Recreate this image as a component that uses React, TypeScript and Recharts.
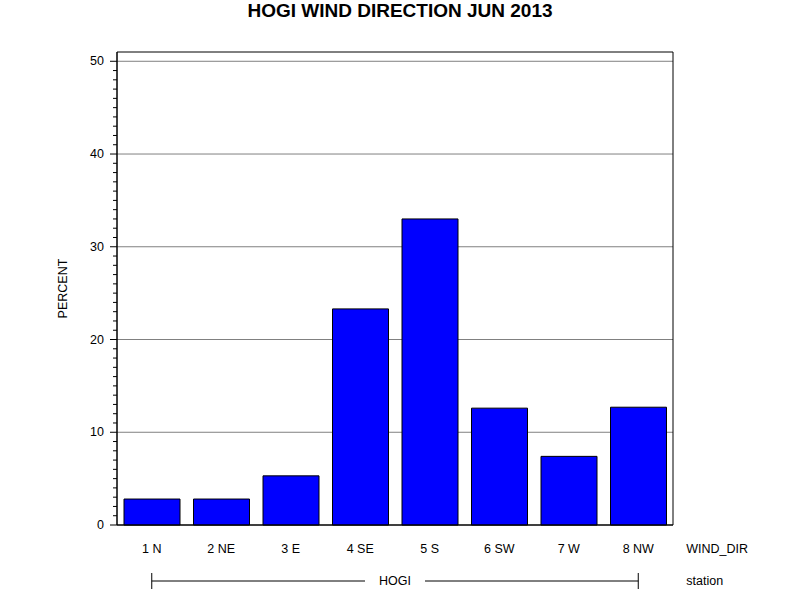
import React from "react";
import {
  BarChart,
  Bar,
  XAxis,
  YAxis,
  CartesianGrid,
  ReferenceArea,
} from "recharts";

const directions = ["1 N", "2 NE", "3 E", "4 SE", "5 S", "6 SW", "7 W", "8 NW"];
const percents = [2.8, 2.8, 5.3, 23.3, 33.0, 12.6, 7.4, 12.7];
const majorTicks = [0, 10, 20, 30, 40, 50];
const allTicks = [
  0, 1, 2, 3, 4, 5, 6, 7, 8, 9, 10, 11, 12, 13, 14, 15, 16, 17, 18, 19, 20, 21,
  22, 23, 24, 25, 26, 27, 28, 29, 30, 31, 32, 33, 34, 35, 36, 37, 38, 39, 40,
  41, 42, 43, 44, 45, 46, 47, 48, 49, 50,
];
const stationName = "HOGI";

const data = directions.map((d, i) => ({ dir: d, pct: percents[i] }));

const W = 800;
const H = 600;
const margin = { top: 52, right: 127, bottom: 0, left: 0 };
const plotW = W - 117 - margin.right;
const font = "'Liberation Sans', Arial, sans-serif";

const YTick = (props: any) => {
  const { x, y, payload } = props;
  const major = majorTicks.includes(payload.value);
  return (
    <g>
      <line x1={x - (major ? 7 : 4)} x2={x} y1={y} y2={y} stroke="#000" />
      {major && (
        <text x={x - 13} y={y + 4} textAnchor="end" fontSize={12.5} fontFamily={font} fill="#000">
          {payload.value}
        </text>
      )}
    </g>
  );
};

const XTick = (props: any) => {
  const { x, y, payload, index } = props;
  const n = directions.length;
  const step = plotW / n;
  const lastX = x + (n - 1) * step;
  const midX = (x + lastX) / 2;
  const ly = y + 56;
  return (
    <g fontFamily={font} fontSize={12.5} fill="#000">
      <text x={x} y={y + 28} textAnchor="middle">
        {payload.value}
      </text>
      {index === 0 && (
        <g>
          <line x1={x} x2={midX - 30} y1={ly} y2={ly} stroke="#000" />
          <line x1={midX + 30} x2={lastX} y1={ly} y2={ly} stroke="#000" />
          <line x1={x} x2={x} y1={ly - 8} y2={ly + 8} stroke="#000" />
          <line x1={lastX} x2={lastX} y1={ly - 8} y2={ly + 8} stroke="#000" />
          <text x={midX} y={ly + 4} textAnchor="middle">
            {stationName}
          </text>
        </g>
      )}
      {index === n - 1 && (
        <g>
          <text x={x + 48} y={y + 28}>WIND_DIR</text>
          <text x={x + 48} y={ly + 4}>station</text>
        </g>
      )}
    </g>
  );
};

export default function App() {
  return (
    <div style={{ position: "absolute", left: 0, top: 0, width: W, height: H, background: "#fff" }}>
      <div
        style={{
          position: "absolute",
          left: 0,
          top: 0,
          width: W,
          textAlign: "center",
          fontFamily: font,
          fontWeight: "bold",
          fontSize: 19,
        }}
      >
        HOGI WIND DIRECTION JUN 2013
      </div>
      <BarChart width={W} height={H} data={data} margin={margin} barCategoryGap={7}>
        <CartesianGrid
          vertical={false}
          horizontalValues={[10, 20, 30, 40, 50]}
          stroke="#808080"
          yAxisId="l"
        />
        <XAxis
          dataKey="dir"
          tickLine={false}
          tickSize={0}
          tickMargin={0}
          tick={XTick}
          axisLine={{ stroke: "#000" }}
          interval={0}
          height={75}
        />
        <YAxis
          yAxisId="l"
          domain={[0, 51]}
          ticks={allTicks}
          interval={0}
          width={117}
          tickLine={false}
          tickSize={0}
          tickMargin={0}
          tick={YTick}
          axisLine={{ stroke: "#000" }}
          label={{
            content: (p: any) => {
              const vb = p.viewBox || {};
              const cx = (vb.x ?? 0) + 64;
              const cy = (vb.y ?? 52) + (vb.height ?? 473) / 2;
              return (
                <text
                  x={cx}
                  y={cy}
                  transform={`rotate(-90 ${cx} ${cy})`}
                  textAnchor="middle"
                  dominantBaseline="middle"
                  fontSize={12.5}
                  fontFamily={font}
                  fill="#000"
                >
                  PERCENT
                </text>
              );
            },
          }}
        />
        <Bar yAxisId="l" dataKey="pct" fill="#0000ff" stroke="#000" strokeWidth={1} isAnimationActive={false} />
        <ReferenceArea yAxisId="l" y1={0} y2={51} fill="none" stroke="#000" strokeWidth={1} fillOpacity={0} />
      </BarChart>
    </div>
  );
}
